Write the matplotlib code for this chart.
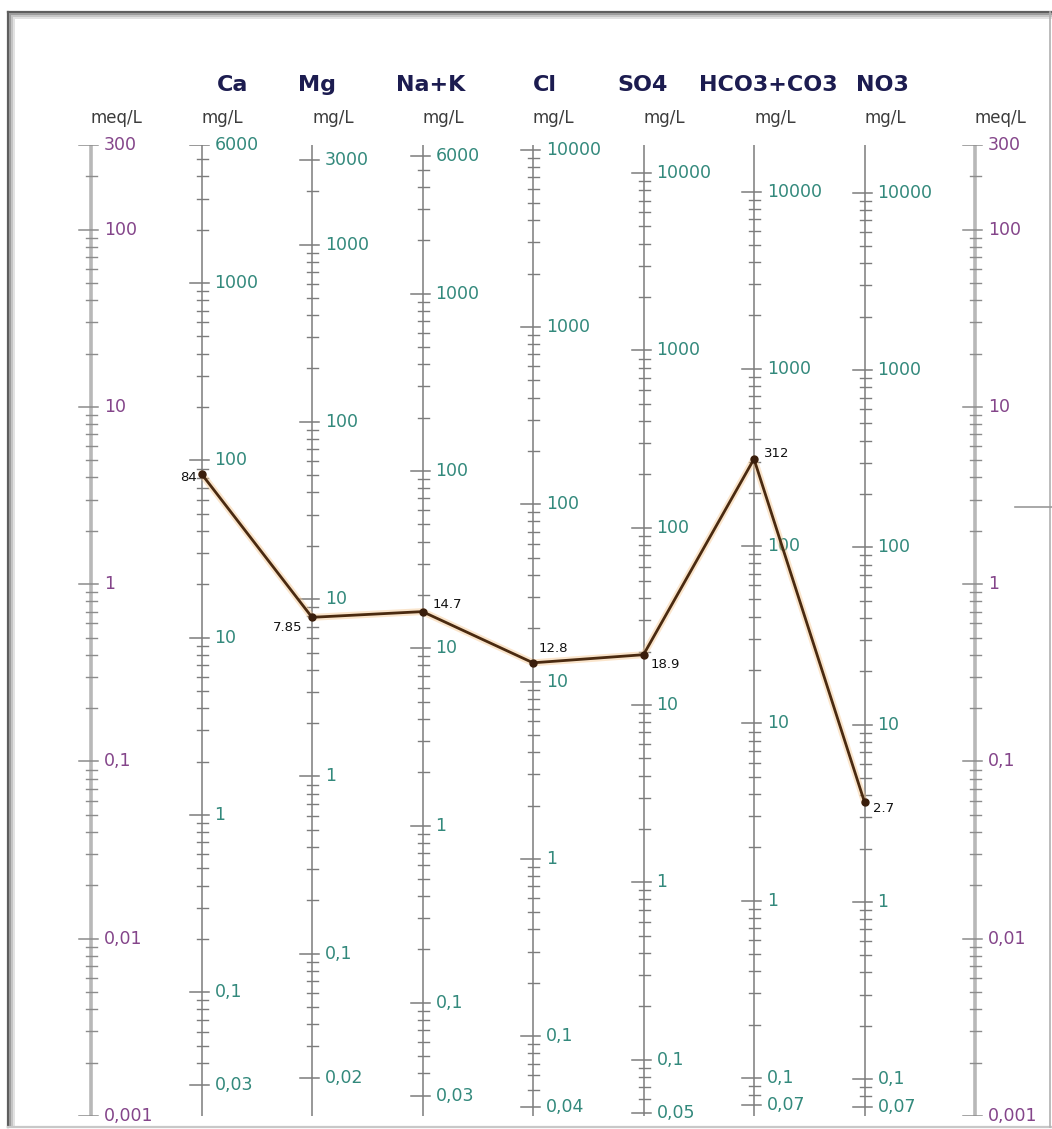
import numpy as np
import matplotlib.pyplot as plt
from matplotlib.lines import Line2D

# ion columns of the Schoeller diagram
ions = ["Ca", "Mg", "Na+K", "Cl", "SO4", "HCO3+CO3", "NO3"]
eq_weights = [20.04, 12.15, 23.0, 35.45, 48.03, 61.02, 62.0]   # mg per meq
top_mg = [6000, 3000, 6000, 10000, 10000, 10000, 10000]
bottom_mg = [0.03, 0.02, 0.03, 0.04, 0.05, 0.07, 0.07]

# meq/L side scales
meq_min, meq_max = 0.001, 300

# the sample (mg/L labels and plotted meq/L positions)
sample_labels = ["84", "7.85", "14.7", "12.8", "18.9", "312", "2.7"]
sample_meq = [4.19, 0.65, 0.70, 0.36, 0.40, 5.08, 0.059]

# layout (pixels)
W, H = 1052, 1129
x0_px, step_px = 91, 110.5
top_px, bot_px = 145, 1116
header_dx = [15, -14, -27, 0, -26, -55, -9]
label_off = [(-5, -4, "right"), (-10, -10, "right"), (10, 7, "left"),
             (6, 14, "left"), (7, -10, "left"), (10, 6, "left"), (9, -6, "left")]

PT = 0.72  # px -> points at dpi 100

fig = plt.figure(figsize=(W / 100, H / 100), dpi=100)
ax = fig.add_axes([0, 1 - bot_px / H, 1, (bot_px - top_px) / H])
ax.set_yscale("log")
ax.set_ylim(meq_min, meq_max)
ax.set_xlim(-x0_px / step_px, (W - x0_px) / step_px)
ax.axis("off")

px = 1 / step_px  # one pixel in x data units

meq_col = "#84458a"
mg_col = "#33897c"
unit_col = "#3c3c3c"
head_col = "#1c1c50"


def fmt(v):
    return f"{v:g}".replace(".", ",")


def log_ticks(lo, hi):
    vals = []
    for e in range(-4, 6):
        for k in range(1, 10):
            v = k * 10.0 ** e
            if lo * 0.999 <= v <= hi * 1.001:
                vals.append(v)
    return vals


def draw_scale(x, lo, hi, factor, line_kw, tick_col, lab_col):
    ax.plot([x, x], [meq_min, meq_max], solid_capstyle="butt", **line_kw, zorder=1)
    for v in log_ticks(lo, hi):
        y = v / factor
        major = abs(np.log10(v) - round(np.log10(v))) < 1e-9 or np.isclose(v, lo) or np.isclose(v, hi)
        if major:
            ax.plot([x - 12 * px, x + 7 * px], [y, y], color=tick_col, lw=1.1, zorder=2)
            ax.annotate(fmt(v), (x, y), xytext=(13 * PT, 0), textcoords="offset points",
                        ha="left", va="center", color=lab_col, fontsize=12.5, zorder=3)
        else:
            ax.plot([x - 5 * px, x + 6 * px], [y, y], color=tick_col, lw=1.0, zorder=2)


# meq/L scales left and right
for x in [0, 8]:
    draw_scale(x, meq_min, meq_max, 1.0, dict(color="#b8b8b8", lw=2.6), "#8c8c8c", meq_col)
    ax.annotate("meq/L", (x, 1), xycoords=("data", "axes fraction"),
                xytext=(0, 22 * PT), textcoords="offset points",
                ha="left", va="baseline", color=unit_col, fontsize=12)

# ion scales
for i, ion in enumerate(ions):
    x = i + 1
    draw_scale(x, bottom_mg[i], top_mg[i], eq_weights[i],
               dict(color="#7c7c7c", lw=1.1), "#7c7c7c", mg_col)
    ax.annotate("mg/L", (x, 1), xycoords=("data", "axes fraction"),
                xytext=(0, 22 * PT), textcoords="offset points",
                ha="left", va="baseline", color=unit_col, fontsize=12)
    ax.annotate(ion, (x, 1), xycoords=("data", "axes fraction"),
                xytext=(header_dx[i] * PT, 54 * PT), textcoords="offset points",
                ha="left", va="baseline", color=head_col, fontsize=16, fontweight="bold")

# sample line
xs = np.arange(1, len(ions) + 1)
ax.plot(xs, sample_meq, color="#f6c68e", lw=5, alpha=0.45, zorder=4, solid_capstyle="round")
ax.plot(xs, sample_meq, color="#4a2a10", lw=2.0, zorder=5, marker="o", ms=5,
        mfc="#3a1e0c", mec="#3a1e0c")
for x, v, lab, (dx, dy, ha) in zip(xs, sample_meq, sample_labels, label_off):
    ax.annotate(lab, (x, v), xytext=(dx * PT, dy * PT), textcoords="offset points",
                ha=ha, va="center", fontsize=9.5, color="#111111", zorder=6)


# picture frame with a soft inner shadow
def fline(xa, ya, xb, yb, **kw):
    fig.add_artist(Line2D([xa / W, xb / W], [1 - ya / H, 1 - yb / H], **kw))


fline(8, 12, 1052, 12, color="#5e5e5e", lw=1.6)
fline(8, 12, 8, 1127, color="#5e5e5e", lw=1.6)
for k, c in enumerate(["#9a9a9a", "#c4c4c4", "#e2e2e2"]):
    d = 2 + 2 * k
    fline(8 + d, 12 + d, 1052, 12 + d, color=c, lw=1.4)
    fline(8 + d, 12 + d, 8 + d, 1127, color=c, lw=1.4)
fline(8, 1127, 1052, 1127, color="#c8c8c8", lw=1.6)
fline(1050, 12, 1050, 1127, color="#b0b0b0", lw=1.2)
fline(1015, 507, 1052, 507, color="#9a9a9a", lw=1.2)

fig.savefig("out.png", dpi=100)
